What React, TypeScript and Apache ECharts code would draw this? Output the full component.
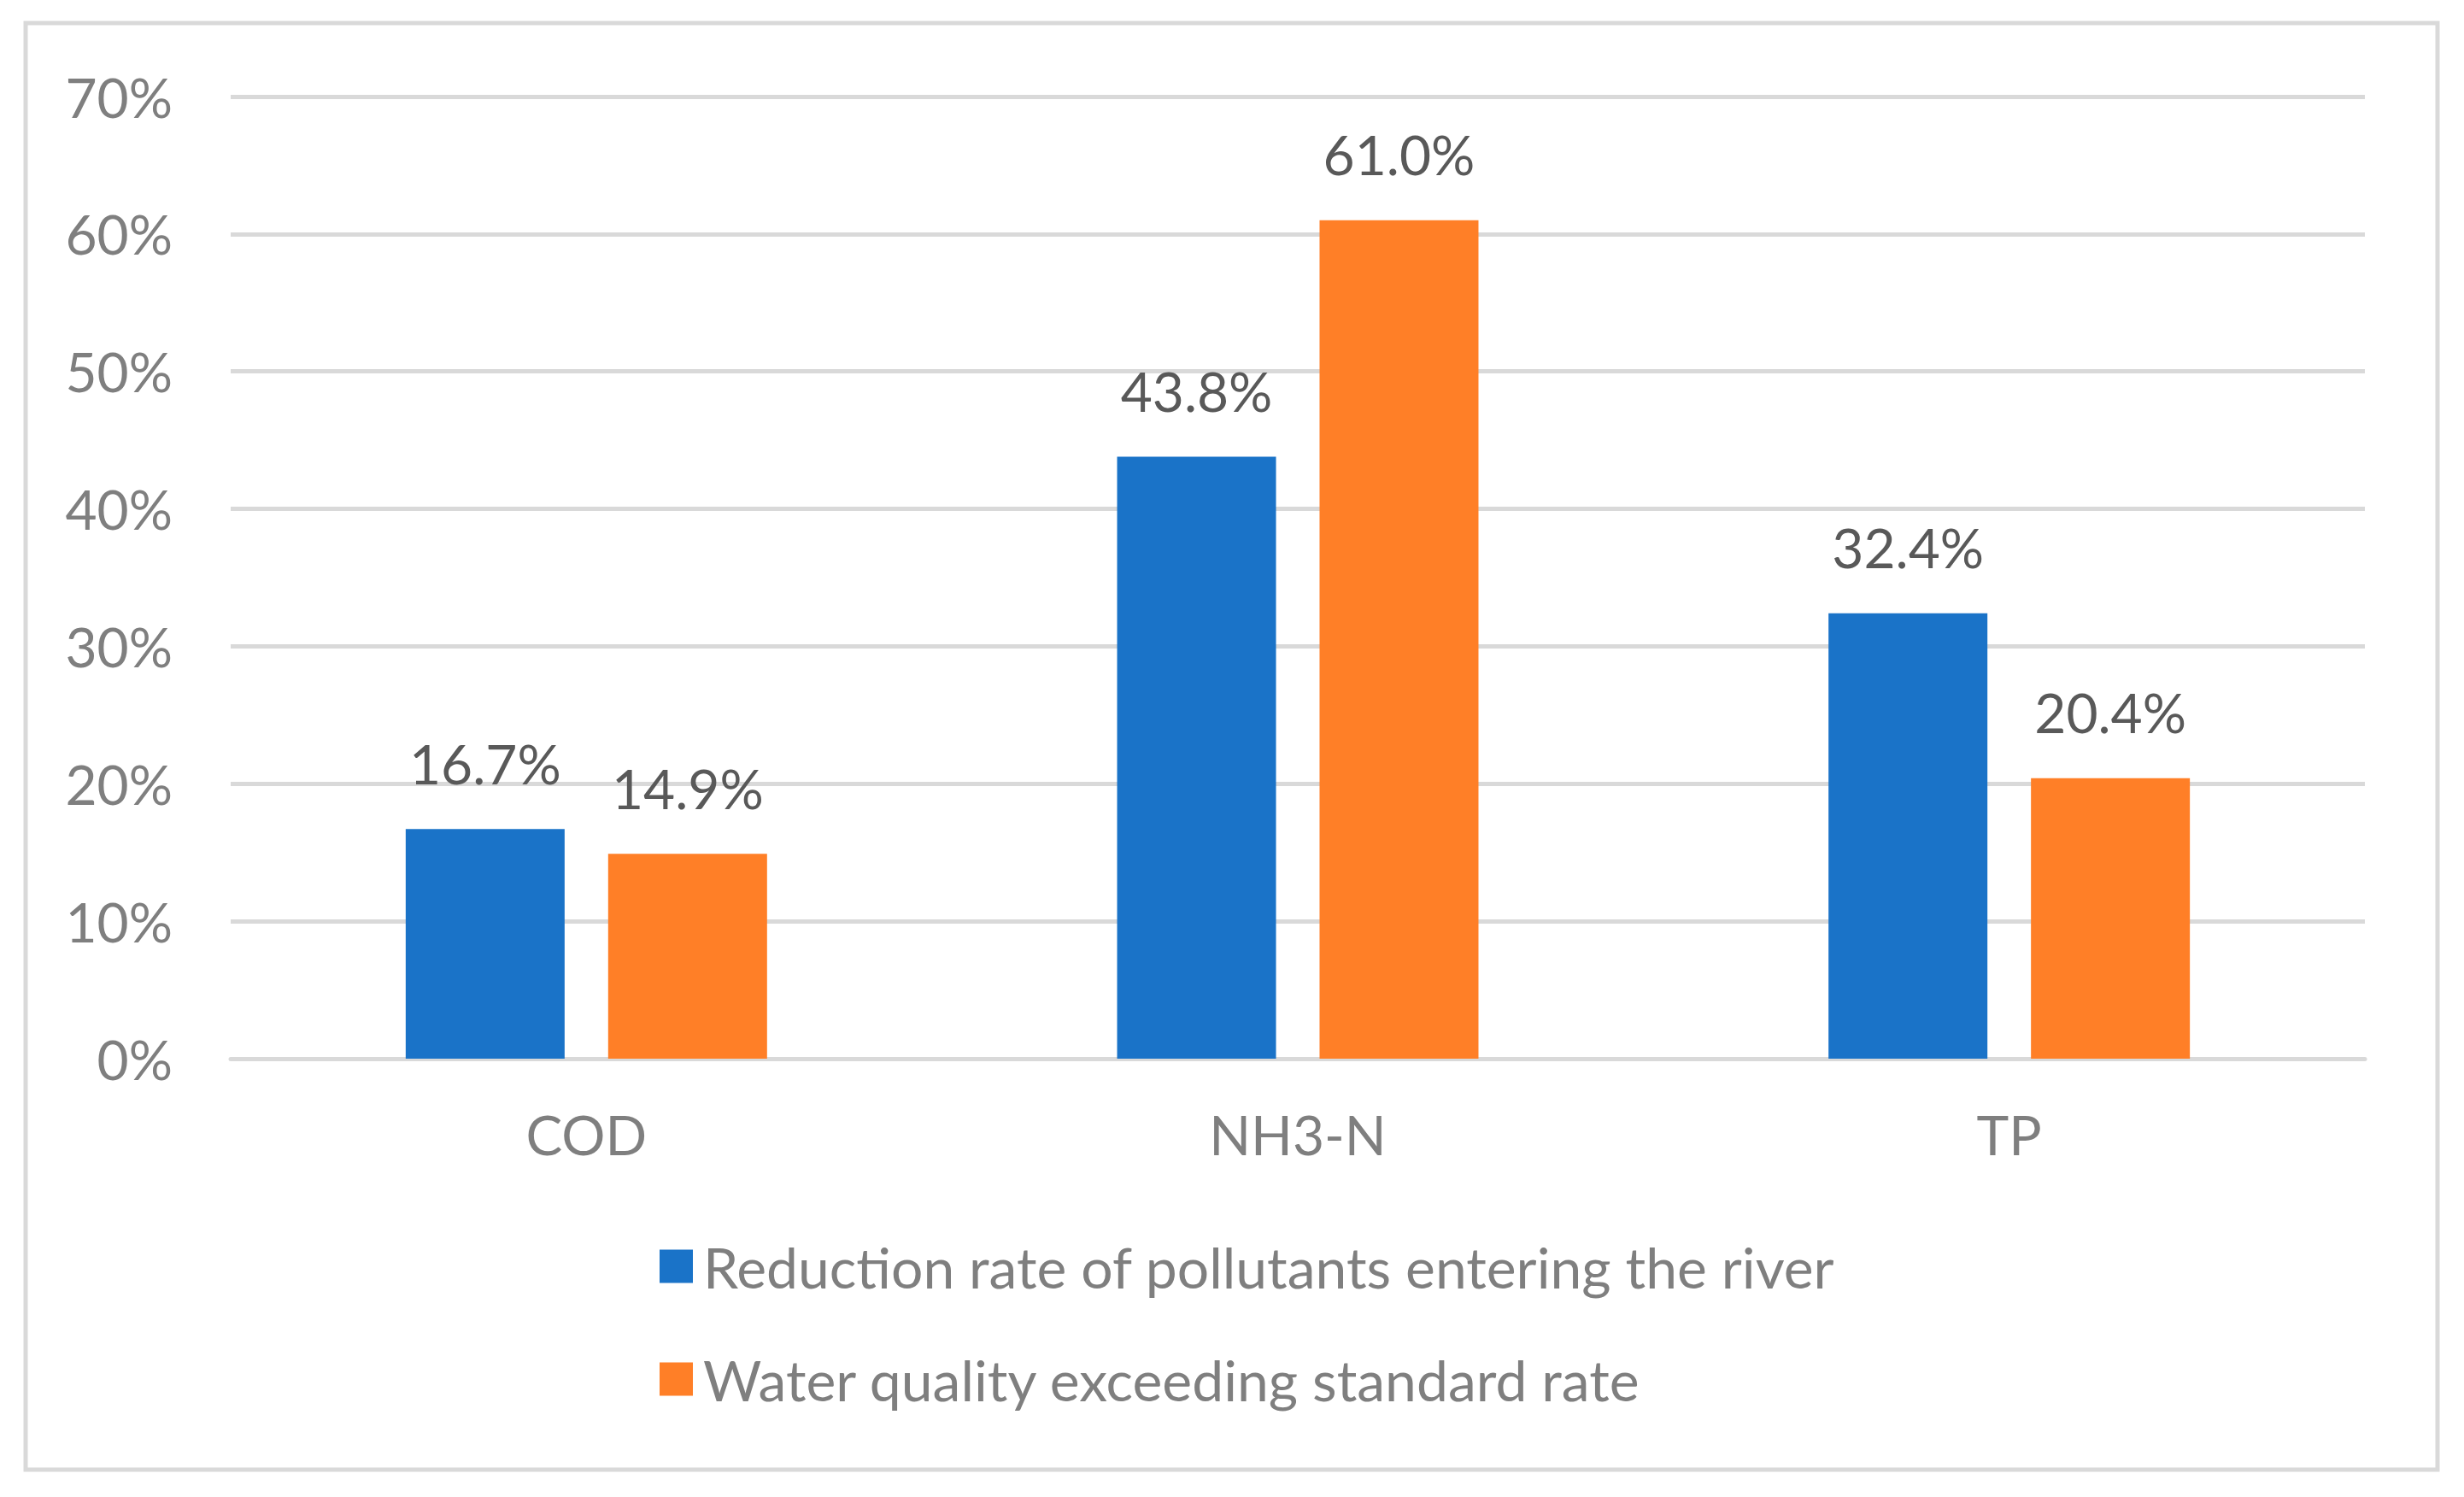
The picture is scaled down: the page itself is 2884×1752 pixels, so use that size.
import React, { useEffect, useRef } from "react";
import * as echarts from "echarts";

const categories = ["COD", "NH3-N", "TP"];
const seriesNames = [
  "Reduction rate of pollutants entering the river",
  "Water quality exceeding standard rate",
];
const reductionRate = [16.7, 43.8, 32.4];
const exceedingRate = [14.9, 61.0, 20.4];
const yTicks = { min: 0, max: 70, interval: 10 };

const FONT = "Lato, 'Open Sans', sans-serif";

export default function App() {
  const ref = useRef<HTMLDivElement>(null);
  useEffect(() => {
    document.body.style.margin = "0";
    if (!ref.current) return;
    const chart = echarts.init(ref.current, undefined, { renderer: "svg" });
    const labelCfg = {
      show: true,
      position: "top" as const,
      distance: 45,
      color: "#595959",
      fontSize: 64,
      fontFamily: FONT,
      formatter: (p: any) => Number(p.value).toFixed(1) + "%",
    };
    chart.setOption({
      animation: false,
      backgroundColor: "#ffffff",
      textStyle: { fontFamily: FONT },
      graphic: [
        {
          type: "rect",
          shape: { x: 30, y: 27, width: 2823, height: 1693 },
          style: { fill: "none", stroke: "#d9d9d9", lineWidth: 5 },
          z: -1,
        },
      ],
      grid: { left: 270, right: 116, top: 113, bottom: 513, containLabel: false },
      legend: {
        orient: "vertical",
        left: 767,
        top: 1444,
        itemWidth: 39,
        itemHeight: 39,
        itemGap: 66,
        icon: "rect",
        data: seriesNames,
        textStyle: {
          color: "#7f7f7f",
          fontSize: 66,
          lineHeight: 66,
          fontFamily: FONT,
          padding: [0, 0, 0, 7],
        },
      },
      xAxis: {
        type: "category",
        data: categories,
        axisLine: { show: true, lineStyle: { color: "#d9d9d9", width: 5 } },
        axisTick: { show: false },
        axisLabel: { color: "#7f7f7f", fontSize: 64, fontFamily: FONT, margin: 56 },
      },
      yAxis: {
        type: "value",
        min: yTicks.min,
        max: yTicks.max,
        interval: yTicks.interval,
        axisLine: { show: false },
        axisTick: { show: false },
        axisLabel: {
          color: "#7f7f7f",
          fontSize: 64,
          fontFamily: FONT,
          margin: 68,
          formatter: "{value}%",
        },
        splitLine: { lineStyle: { color: "#d9d9d9", width: 5 } },
      },
      series: [
        {
          name: seriesNames[0],
          type: "bar",
          data: reductionRate,
          barWidth: 186,
          barGap: "27.4%",
          itemStyle: { color: "#1a73c8" },
          label: labelCfg,
        },
        {
          name: seriesNames[1],
          type: "bar",
          data: exceedingRate,
          barWidth: 186,
          barGap: "27.4%",
          itemStyle: { color: "#ff7f27" },
          label: labelCfg,
        },
      ],
    });
    return () => chart.dispose();
  }, []);
  return <div ref={ref} style={{ width: 2884, height: 1752 }} />;
}
